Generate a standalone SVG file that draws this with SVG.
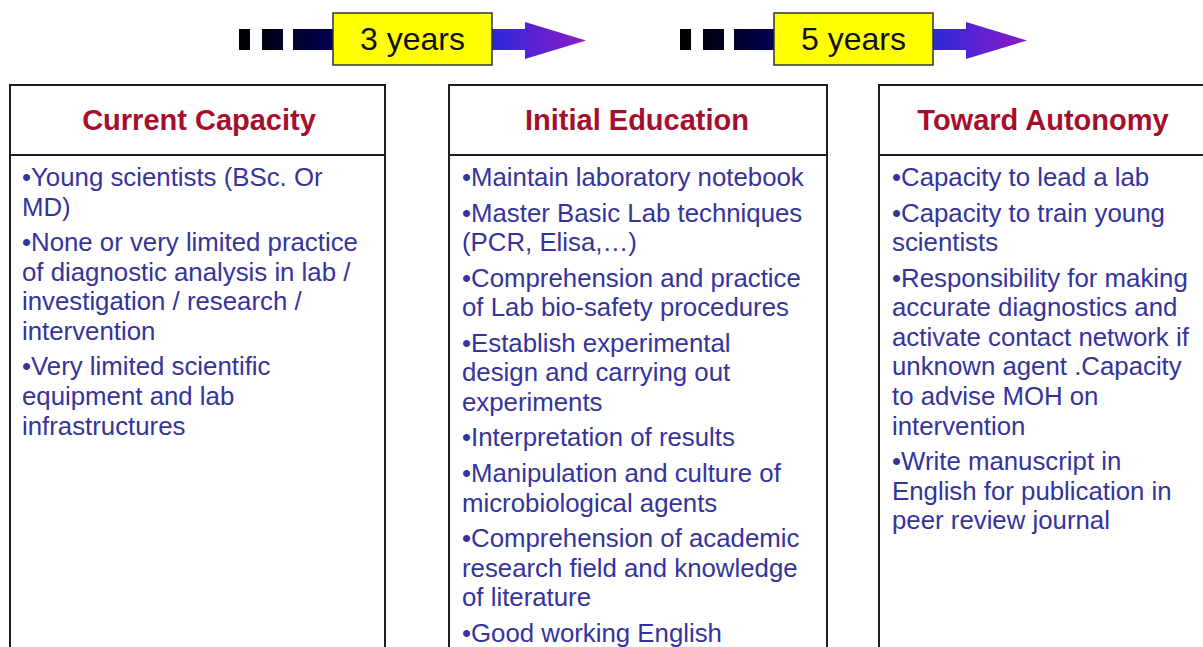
<svg xmlns="http://www.w3.org/2000/svg" width="1203" height="647" viewBox="0 0 1203 647">
<defs>
<linearGradient id="arrowGrad" x1="0" y1="0" x2="1" y2="0">
<stop offset="0" stop-color="#000000"/>
<stop offset="0.2" stop-color="#00003a"/>
<stop offset="0.3" stop-color="#000060"/>
<stop offset="0.73" stop-color="#2a2ad8"/>
<stop offset="0.85" stop-color="#5a22d2"/>
<stop offset="1" stop-color="#8a1cc4"/>
</linearGradient>
<style>
.box{fill:#ffffff;stroke:#1e1e1e;stroke-width:2}
.div{stroke:#1e1e1e;stroke-width:2}
.hdr{font-family:"Liberation Sans",Arial,sans-serif;font-weight:bold;font-size:29px;fill:#a50f2d;text-anchor:middle}
.body{font-family:"Liberation Sans",Arial,sans-serif;font-size:25.8px;fill:#34349c}
.yr{fill:#ffff00;stroke:#333333;stroke-width:1.5}
.yrt{font-family:"Liberation Sans",Arial,sans-serif;font-size:32px;fill:#111111;text-anchor:middle}
.arr{fill:url(#arrowGrad)}
</style>
</defs>
<rect width="1203" height="647" fill="#ffffff"/>

<g id="connectors">
<g id="arrow-3years">
<path class="arr" d="M239,29 h11 v21 h-11 z M262,29 h21 v21 h-21 z M293,29 H525 V22 L586,40.5 L525,59 V50 H293 z"/>
<rect class="yr" x="333" y="13" width="159" height="52"/>
<text class="yrt" x="412.5" y="50">3 years</text>
</g>
<g id="arrow-5years" transform="translate(441,0)">
<path class="arr" d="M239,29 h11 v21 h-11 z M262,29 h21 v21 h-21 z M293,29 H525 V22 L586,40.5 L525,59 V50 H293 z"/>
<rect class="yr" x="333" y="13" width="159" height="52"/>
<text class="yrt" x="412.5" y="50">5 years</text>
</g>
</g>

<g id="current-capacity">
<rect class="box" x="10" y="85" width="375" height="580"/>
<line class="div" x1="10" y1="155" x2="385" y2="155"/>
<text class="hdr" x="199" y="130">Current Capacity</text>
<text class="body">
<tspan x="22" y="186">•Young scientists (BSc. Or</tspan>
<tspan x="22" y="215.6">MD)</tspan>
<tspan x="22" y="251.1">•None or very limited practice</tspan>
<tspan x="22" y="280.7">of diagnostic analysis in lab /</tspan>
<tspan x="22" y="310.3">investigation / research /</tspan>
<tspan x="22" y="339.9">intervention</tspan>
<tspan x="22" y="375.4">•Very limited scientific</tspan>
<tspan x="22" y="405">equipment and lab</tspan>
<tspan x="22" y="434.6">infrastructures</tspan>
</text>
</g>

<g id="initial-education">
<rect class="box" x="449" y="85" width="378" height="580"/>
<line class="div" x1="449" y1="155" x2="827" y2="155"/>
<text class="hdr" x="637" y="130">Initial Education</text>
<text class="body">
<tspan x="462" y="186">•Maintain laboratory notebook</tspan>
<tspan x="462" y="221.5">•Master Basic Lab techniques</tspan>
<tspan x="462" y="251.1">(PCR, Elisa,…)</tspan>
<tspan x="462" y="286.6">•Comprehension and practice</tspan>
<tspan x="462" y="316.2">of Lab bio-safety procedures</tspan>
<tspan x="462" y="351.7">•Establish experimental</tspan>
<tspan x="462" y="381.3">design and carrying out</tspan>
<tspan x="462" y="410.9">experiments</tspan>
<tspan x="462" y="446.4">•Interpretation of results</tspan>
<tspan x="462" y="481.9">•Manipulation and culture of</tspan>
<tspan x="462" y="511.5">microbiological agents</tspan>
<tspan x="462" y="547">•Comprehension of academic</tspan>
<tspan x="462" y="576.6">research field and knowledge</tspan>
<tspan x="462" y="606.2">of literature</tspan>
<tspan x="462" y="641.7">•Good working English</tspan>
</text>
</g>

<g id="toward-autonomy">
<rect class="box" x="879" y="85" width="340" height="580"/>
<line class="div" x1="879" y1="155" x2="1219" y2="155"/>
<text class="hdr" x="1043" y="130">Toward Autonomy</text>
<text class="body">
<tspan x="892" y="186">•Capacity to lead a lab</tspan>
<tspan x="892" y="221.5">•Capacity to train young</tspan>
<tspan x="892" y="251.1">scientists</tspan>
<tspan x="892" y="286.6">•Responsibility for making</tspan>
<tspan x="892" y="316.2">accurate diagnostics and</tspan>
<tspan x="892" y="345.8">activate contact network if</tspan>
<tspan x="892" y="375.4">unknown agent .Capacity</tspan>
<tspan x="892" y="405">to advise MOH on</tspan>
<tspan x="892" y="434.6">intervention</tspan>
<tspan x="892" y="470.1">•Write manuscript in</tspan>
<tspan x="892" y="499.7">English for publication in</tspan>
<tspan x="892" y="529.3">peer review journal</tspan>
</text>
</g>
</svg>
